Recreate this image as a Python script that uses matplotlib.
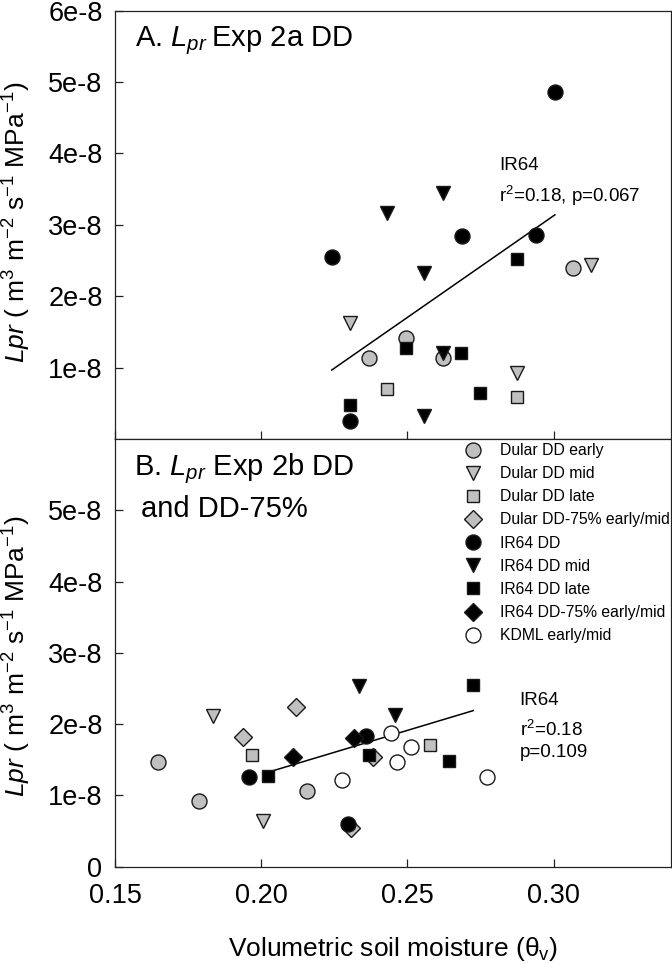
import matplotlib
matplotlib.use('Agg')
import matplotlib.pyplot as plt
from matplotlib.lines import Line2D

plt.rcParams['font.family'] = ['Liberation Sans', 'DejaVu Sans']
plt.rcParams['mathtext.fontset'] = 'custom'
plt.rcParams['mathtext.rm'] = 'Liberation Sans'
plt.rcParams['mathtext.it'] = 'Liberation Sans:italic'
plt.rcParams['mathtext.default'] = 'regular'

# ---------------- Panel A data (Exp 2a DD) ----------------
a_dular_early_x = [0.2367, 0.2494, 0.2620, 0.3066]
a_dular_early_y = [1.14e-8, 1.42e-8, 1.13e-8, 2.39e-8]
a_dular_mid_x = [0.2302, 0.2876, 0.3129]
a_dular_mid_y = [1.62e-8, 0.93e-8, 2.44e-8]
a_dular_late_x = [0.2431, 0.2876]
a_dular_late_y = [0.70e-8, 0.59e-8]
a_ir64_dd_x = [0.2241, 0.2304, 0.2685, 0.2940, 0.3004]
a_ir64_dd_y = [2.55e-8, 0.25e-8, 2.84e-8, 2.86e-8, 4.86e-8]
a_ir64_mid_x = [0.2431, 0.2620, 0.2557, 0.2620, 0.2557]
a_ir64_mid_y = [3.17e-8, 3.44e-8, 2.32e-8, 1.21e-8, 0.32e-8]
a_ir64_late_x = [0.2876, 0.2494, 0.2683, 0.2747, 0.2304]
a_ir64_late_y = [2.52e-8, 1.27e-8, 1.20e-8, 0.64e-8, 0.47e-8]
a_fit_x = [0.2241, 0.3004]
a_fit_y = [0.966e-8, 3.14e-8]

# ---------------- Panel B data (Exp 2b DD and DD-75%) ----------------
b_dular_early_x = [0.1648, 0.1788, 0.2158]
b_dular_early_y = [1.475e-8, 0.92e-8, 1.06e-8]
b_dular_mid_x = [0.1836, 0.2006]
b_dular_mid_y = [2.12e-8, 0.64e-8]
b_dular_late_x = [0.1967, 0.2576]
b_dular_late_y = [1.57e-8, 1.71e-8]
b_dular_75_x = [0.1939, 0.2119, 0.2307, 0.2382]
b_dular_75_y = [1.82e-8, 2.24e-8, 0.54e-8, 1.54e-8]
b_ir64_dd_x = [0.1958, 0.2357, 0.2296]
b_ir64_dd_y = [1.26e-8, 1.84e-8, 0.60e-8]
b_ir64_mid_x = [0.2335, 0.2456]
b_ir64_mid_y = [2.53e-8, 2.13e-8]
b_ir64_late_x = [0.2725, 0.2023, 0.2370, 0.2642]
b_ir64_late_y = [2.55e-8, 1.27e-8, 1.56e-8, 1.48e-8]
b_ir64_75_x = [0.2110, 0.2317]
b_ir64_75_y = [1.54e-8, 1.81e-8]
b_kdml_x = [0.2442, 0.2513, 0.2465, 0.2275, 0.2771]
b_kdml_y = [1.88e-8, 1.68e-8, 1.47e-8, 1.22e-8, 1.26e-8]
b_fit_x = [0.2023, 0.2725]
b_fit_y = [1.325e-8, 2.19e-8]

legend_labels = ['Dular DD early', 'Dular DD mid', 'Dular DD late',
                 'Dular DD-75% early/mid', 'IR64 DD', 'IR64 DD mid',
                 'IR64 DD late', 'IR64 DD-75% early/mid', 'KDML early/mid']

x_ticks = [0.15, 0.20, 0.25, 0.30]
x_tick_labels = ['0.15', '0.20', '0.25', '0.30']
y_ticks_top = [1e-8, 2e-8, 3e-8, 4e-8, 5e-8, 6e-8]
y_tick_labels_top = ['1e-8', '2e-8', '3e-8', '4e-8', '5e-8', '6e-8']
y_ticks_bot = [0, 1e-8, 2e-8, 3e-8, 4e-8, 5e-8]
y_tick_labels_bot = ['0', '1e-8', '2e-8', '3e-8', '4e-8', '5e-8']

GRAY = '#c0c0c0'
EDGE = '#1a1a1a'
STYLES = {
    'Dular DD early': dict(marker='o', mfc=GRAY, ms=10.8),
    'Dular DD mid': dict(marker='v', mfc=GRAY, ms=10.0),
    'Dular DD late': dict(marker='s', mfc=GRAY, ms=8.6),
    'Dular DD-75% early/mid': dict(marker='D', mfc=GRAY, ms=9.6),
    'IR64 DD': dict(marker='o', mfc='black', ms=10.8),
    'IR64 DD mid': dict(marker='v', mfc='black', ms=10.0),
    'IR64 DD late': dict(marker='s', mfc='black', ms=8.6),
    'IR64 DD-75% early/mid': dict(marker='D', mfc='black', ms=9.6),
    'KDML early/mid': dict(marker='o', mfc='white', ms=10.8),
}

W, H = 672, 963
fig = plt.figure(figsize=(W / 100, H / 100), dpi=100)

L, R = 115, 670.7
T1, MID, B2 = 10.7, 439.0, 866.7
ax1 = fig.add_axes([L / W, 1 - MID / H, (R - L) / W, (MID - T1) / H])
ax2 = fig.add_axes([L / W, 1 - B2 / H, (R - L) / W, (B2 - MID) / H])


def plot_series(ax, name, xs, ys):
    st = STYLES[name]
    ax.plot(xs, ys, linestyle='none', marker=st['marker'], ms=st['ms'],
            mfc=st['mfc'], mec=EDGE, mew=1.0, zorder=3)


for ax in (ax1, ax2):
    ax.set_xlim(0.15, 0.34)
    ax.set_ylim(0, 6e-8)
    ax.set_xticks(x_ticks)
    for sp in ax.spines.values():
        sp.set_linewidth(0.9)
        sp.set_color('#222222')
    ax.tick_params(direction='in', length=5.5, width=0.9, color='#222222',
                   labelsize=19.5, pad=9)
    ax.tick_params(axis='x', pad=12)

# Panel A
plot_series(ax1, 'Dular DD early', a_dular_early_x, a_dular_early_y)
plot_series(ax1, 'Dular DD mid', a_dular_mid_x, a_dular_mid_y)
plot_series(ax1, 'Dular DD late', a_dular_late_x, a_dular_late_y)
plot_series(ax1, 'IR64 DD', a_ir64_dd_x, a_ir64_dd_y)
plot_series(ax1, 'IR64 DD mid', a_ir64_mid_x, a_ir64_mid_y)
plot_series(ax1, 'IR64 DD late', a_ir64_late_x, a_ir64_late_y)
ax1.plot(a_fit_x, a_fit_y, color='black', lw=1.1, zorder=2)
ax1.set_yticks(y_ticks_top)
ax1.set_yticklabels(y_tick_labels_top)
ax1.tick_params(axis='x', labelbottom=False)

ax1.text((135 - L) / (R - L), (MID - 46.7) / (MID - T1),
         r'A. $\mathit{L}_{\mathit{pr}}$' + '\u2009Exp 2a DD', transform=ax1.transAxes,
         fontsize=21, ha='left', va='baseline')
ax1.text((499 - L) / (R - L), (MID - 170) / (MID - T1), 'IR64',
         transform=ax1.transAxes, fontsize=13.5, ha='left', va='baseline')
ax1.text((499 - L) / (R - L), (MID - 201.7) / (MID - T1),
         r'r$^{2}$=0.18, p=0.067',
         transform=ax1.transAxes, fontsize=13.5, ha='left', va='baseline')

# Panel B
plot_series(ax2, 'Dular DD early', b_dular_early_x, b_dular_early_y)
plot_series(ax2, 'Dular DD mid', b_dular_mid_x, b_dular_mid_y)
plot_series(ax2, 'Dular DD late', b_dular_late_x, b_dular_late_y)
plot_series(ax2, 'Dular DD-75% early/mid', b_dular_75_x, b_dular_75_y)
plot_series(ax2, 'IR64 DD', b_ir64_dd_x, b_ir64_dd_y)
plot_series(ax2, 'IR64 DD mid', b_ir64_mid_x, b_ir64_mid_y)
plot_series(ax2, 'IR64 DD late', b_ir64_late_x, b_ir64_late_y)
plot_series(ax2, 'IR64 DD-75% early/mid', b_ir64_75_x, b_ir64_75_y)
plot_series(ax2, 'KDML early/mid', b_kdml_x, b_kdml_y)
ax2.plot(b_fit_x, b_fit_y, color='black', lw=1.1, zorder=2)
ax2.set_yticks(y_ticks_bot)
ax2.set_yticklabels(y_tick_labels_bot)
ax2.set_xticklabels(x_tick_labels)

ax2.text((133.5 - L) / (R - L), (B2 - 475) / (B2 - MID),
         r'B. $\mathit{L}_{\mathit{pr}}$ Exp 2b DD', transform=ax2.transAxes,
         fontsize=21, ha='left', va='baseline')
ax2.text((141.4 - L) / (R - L), (B2 - 517.3) / (B2 - MID),
         'and DD-75%', transform=ax2.transAxes,
         fontsize=21, ha='left', va='baseline')
ax2.text((519.6 - L) / (R - L), (B2 - 705) / (B2 - MID), 'IR64',
         transform=ax2.transAxes, fontsize=13.5, ha='left', va='baseline')
ax2.text((519.6 - L) / (R - L), (B2 - 736) / (B2 - MID), r'r$^{2}$=0.18',
         transform=ax2.transAxes, fontsize=13.5, ha='left', va='baseline')
ax2.text((519.6 - L) / (R - L), (B2 - 757) / (B2 - MID), 'p=0.109',
         transform=ax2.transAxes, fontsize=13.5, ha='left', va='baseline')

handles = [Line2D([], [], linestyle='none', marker=STYLES[n]['marker'],
                  ms=STYLES[n]['ms'], mfc=STYLES[n]['mfc'], mec=EDGE, mew=1.0)
           for n in legend_labels]
ax2.legend(handles, legend_labels, loc='upper left',
           bbox_to_anchor=(465.6 / W, 1 - 443 / H), bbox_transform=fig.transFigure,
           frameon=False, fontsize=11.3, handlelength=1.0, handletextpad=1.2,
           labelspacing=0.52, borderpad=0, borderaxespad=0, numpoints=1)

# Axis labels
ylab = r'$\mathit{Lpr}$ ( m$^{3}$ m$^{-2}$ s$^{-1}$ MPa$^{-1}$)'
fig.text(17 / W, 1 - 222 / H, ylab, rotation=90, ha='center', va='center', fontsize=19)
fig.text(17 / W, 1 - 656 / H, ylab, rotation=90, ha='center', va='center', fontsize=19)
fig.text((L + R) / 2 / W, 1 - 956 / H, r'Volumetric soil moisture (θ$_{v}$)',
         ha='center', va='baseline', fontsize=19)

fig.savefig('out.png', dpi=100)
